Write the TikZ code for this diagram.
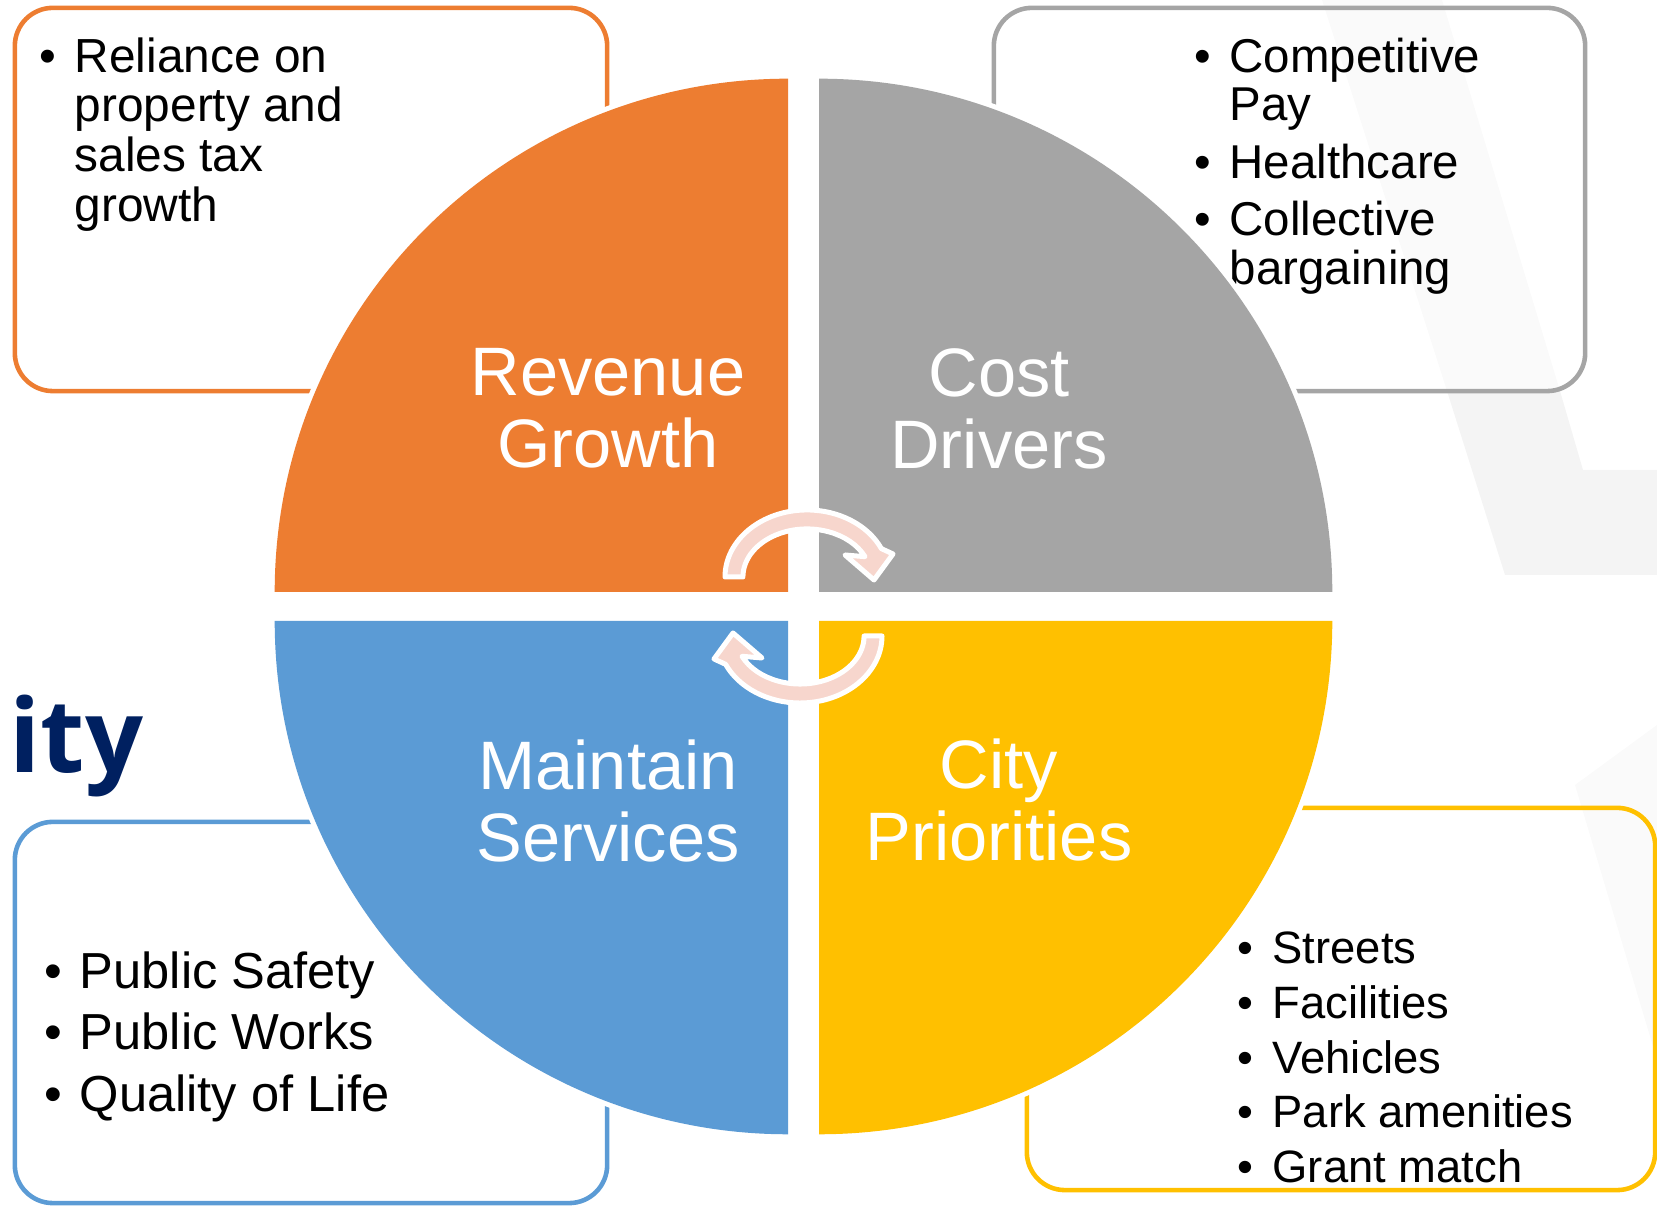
\documentclass[tikz,border=0pt]{standalone}
\usepackage{fontspec}
\setmainfont{Liberation Sans}
\newfontfamily\headfont{Open Sans}
\usepackage{tikz}
\usetikzlibrary{positioning}

\definecolor{qorange}{HTML}{ED7D31}
\definecolor{qgray}{HTML}{A5A5A5}
\definecolor{qblue}{HTML}{5B9BD5}
\definecolor{qyellow}{HTML}{FFC000}
\definecolor{cyclepink}{HTML}{F7D6CD}
\definecolor{navy}{HTML}{002060}
\definecolor{wmark}{HTML}{F4F4F4}
\definecolor{wmarklight}{HTML}{FAFAFA}

\tikzstyle{quad} = [preaction={draw=white, line width=0.1cm}]
\tikzstyle{notebox} = [rectangle, draw, line width=1.3pt, rounded corners=0.38cm, inner sep=0pt]
\tikzstyle{notes} = [anchor=north west, align=left, inner sep=0pt, text=black]
\tikzstyle{quadtitle} = [anchor=north, align=center, inner sep=0pt, text=white,
  font=\fontsize{19.5}{20.5}\selectfont]
\tikzstyle{cyclearrow} = [fill=cyclepink, draw=white, line width=0.05cm, line join=round]

\newcommand{\bul}{\makebox[0.35cm][l]{\textbullet}}
\newcommand{\hang}{\hspace*{0.35cm}}

\begin{document}
\begin{tikzpicture}[x=0.01cm, y=0.01cm]

    \useasboundingbox (0,0) rectangle (1657,1207);

    % faint shapes in the background
    \fill [wmarklight] (1322,1207) -- (1442,1207) -- (1560,816) -- (1447,816) -- cycle;
    \fill [wmark] (1447,816) -- (1560,816) -- (1583,737) -- (1657,737) -- (1657,632) -- (1505,632) -- cycle;
    \fill [wmarklight] (1575,422) -- (1657,482) -- (1657,147) -- cycle;

    \node [anchor=base west, inner sep=0pt, text=navy,
      font=\headfont\bfseries\fontsize{29}{29}\selectfont] at (9,434) (title) {ity};

    % the four note boxes
    \node [notebox, draw=qorange, minimum width=5.92cm, minimum height=3.83cm] at (311,1007.5) (revbox) {};
    \node [notebox, draw=qgray, minimum width=5.91cm, minimum height=3.83cm] at (1289.5,1007.5) (costbox) {};
    \node [notebox, draw=qblue, minimum width=5.92cm, minimum height=3.81cm] at (311,194.5) (servbox) {};
    \node [notebox, draw=qyellow, minimum width=6.28cm, minimum height=3.82cm] at (1341,208) (prioBox) {};

    \node [notes, font=\fontsize{13.6}{14.1}\selectfont] at (39,1170) (revnotes)
      {\bul Reliance on\\ \hang property and\\ \hang sales tax\\ \hang growth};
    \node [notes, font=\fontsize{13.5}{13.8}\selectfont] at (1194,1170) (costnotes)
      {\bul Competitive\\ \hang Pay\\[2.6pt] \bul Healthcare\\[2.6pt] \bul Collective\\ \hang bargaining};
    \node [notes, font=\fontsize{14.4}{17.5}\selectfont] at (44,256) (servnotes)
      {\bul Public Safety\\ \bul Public Works\\ \bul Quality of Life};
    \node [notes, font=\fontsize{12.9}{15.6}\selectfont] at (1237,276) (prionotes)
      {\bul Streets\\ \bul Facilities\\ \bul Vehicles\\ \bul Park amenities\\ \bul Grant match};

    % quadrants
    \foreach \col/\cx/\cy/\sa in {qorange/788/615/90, qgray/819/615/0, qblue/788/586/180, qyellow/819/586/270}
      \fill [quad, \col] (\cx,\cy) -- ++(\sa:5.13cm) arc [start angle=\sa, delta angle=90, radius=5.13cm] -- cycle;

    \node [quadtitle] at (608,859) (revenue) {Revenue\\Growth};
    \node [quadtitle] at (999,859) (cost) {Cost\\Drivers};
    \node [quadtitle] at (608,468) (services) {Maintain\\Services};
    \node [quadtitle] at (999,469) (priorities) {City\\Priorities};

    % cycle arrows
    \foreach \rot in {0,180}
      \filldraw [cyclearrow, rotate around={\rot:(803.5,600.5)}]
        (725,630) arc [start angle=180, end angle=25, x radius=0.82cm, y radius=0.67cm]
        -- (893,653) -- (874,627) -- (845,652) -- (865,650.3)
        arc [start angle=25, end angle=180, x radius=0.64cm, y radius=0.48cm] -- cycle;

\end{tikzpicture}
\end{document}
